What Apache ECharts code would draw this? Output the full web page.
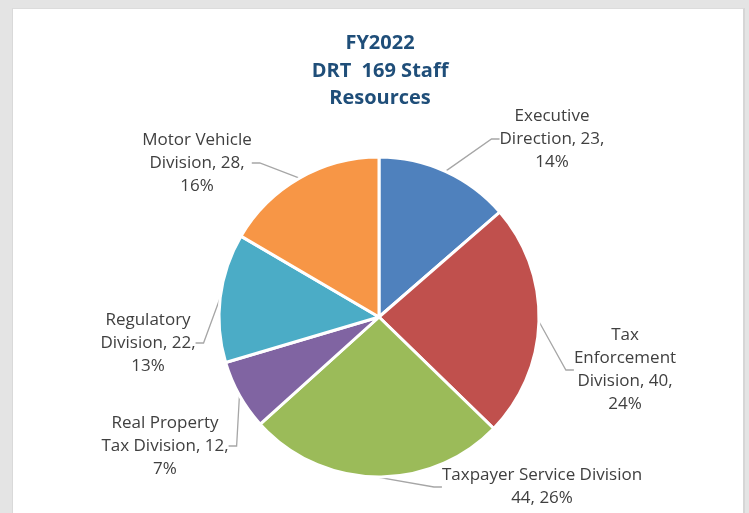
<!DOCTYPE html>
<html>
<head>
<meta charset="utf-8">
<script src="https://cdn.jsdelivr.net/npm/echarts@6/dist/echarts.min.js"></script>
<style>
  html, body { margin: 0; padding: 0; width: 749px; height: 513px; background: #e4e4e4; overflow: hidden; }
  #panel { position: absolute; left: 12px; top: 8px; width: 730px; height: 520px; background: #ffffff; border-right: 2px solid #d6d6d6; border-left: 1px solid #d9d9d9; border-top: 1px solid #dcdcdc; }
  #chart { position: absolute; left: 0; top: 0; width: 749px; height: 513px; }
</style>
</head>
<body>
<div id="panel"></div>
<div id="chart"></div>
<script>
// ---- data ----
const categories = ['Executive Direction', 'Tax Enforcement Division', 'Taxpayer Service Division', 'Real Property Tax Division', 'Regulatory Division', 'Motor Vehicle Division'];
const staffCounts = [23, 40, 44, 12, 22, 28];
const titleLines = ['FY2022', 'DRT  169 Staff', 'Resources'];
// how each label name wraps in the picture
const labelNameLines = [
  ['Executive', 'Direction'],
  ['Tax', 'Enforcement', 'Division'],
  ['Taxpayer Service Division'],
  ['Real Property', 'Tax Division'],
  ['Regulatory', 'Division'],
  ['Motor Vehicle', 'Division']
];

// ---- layout / style ----
const colors = ['#4F81BD', '#C0504D', '#9BBB59', '#8064A2', '#4BACC6', '#F79646'];
const labelAnchors = [[552, 139], [625, 370], [542, 487], [165, 446], [148, 343], [197, 163]];

const chart = echarts.init(document.getElementById('chart'), null, { renderer: 'canvas' });

function labelText(p) {
  const lines = labelNameLines[p.dataIndex];
  if (lines.length === 1) {
    return lines[0] + '\n' + p.value + ', ' + p.percent + '%';
  }
  return lines.join('\n') + ', ' + p.value + ',\n' + p.percent + '%';
}

chart.setOption({
  backgroundColor: 'transparent',
  title: {
    text: titleLines.join('\n'),
    left: 375,
    textAlign: 'center',
    top: 25,
    textStyle: {
      fontFamily: 'Open Sans',
      fontSize: 20,
      fontWeight: 'bold',
      color: '#1F4E79',
      lineHeight: 27.5
    }
  },
  series: [{
    type: 'pie',
    center: [379, 317],
    radius: ['0%', 160],
    startAngle: 90,
    clockwise: true,
    percentPrecision: 0,
    animation: false,
    itemStyle: { borderColor: '#ffffff', borderWidth: 3 },
    label: {
      show: true,
      formatter: labelText,
      fontFamily: 'Open Sans',
      fontSize: 17,
      lineHeight: 23,
      color: '#404040',
      align: 'center'
    },
    labelLine: {
      show: true,
      length: 10,
      length2: 8,
      lineStyle: { color: '#a6a6a6', width: 1.3 }
    },
    labelLayout: function (params) {
      const a = labelAnchors[params.dataIndex];
      return { x: a[0], y: a[1], align: 'center', verticalAlign: 'middle', moveOverlap: false, hideOverlap: false };
    },
    data: categories.map((c, i) => ({ name: c, value: staffCounts[i], itemStyle: { color: colors[i] } }))
  }]
});
</script>
</body>
</html>
